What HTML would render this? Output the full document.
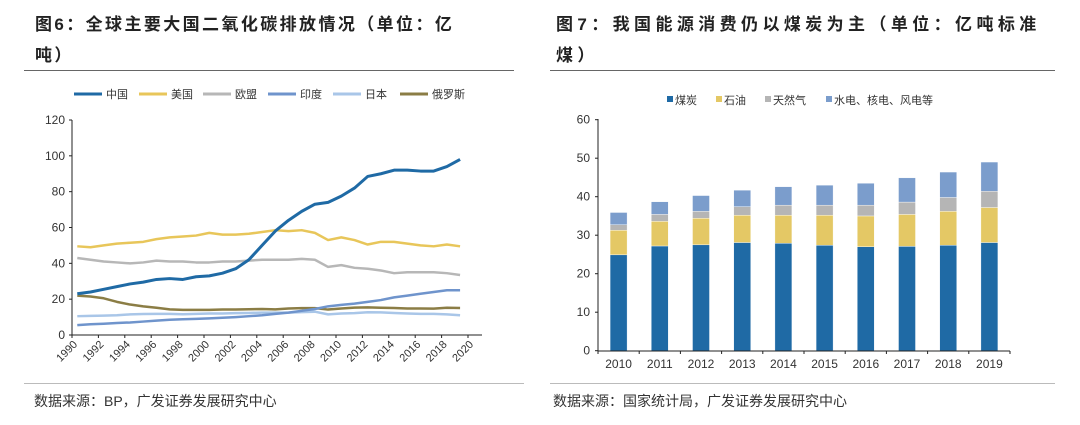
<!DOCTYPE html>
<html><head><meta charset="utf-8"><style>
body{margin:0;width:1080px;height:425px;background:#fff;font-family:"Liberation Sans","Noto Sans CJK SC",sans-serif;overflow:hidden;position:relative}
.t{position:absolute;font-weight:bold;font-size:17px;letter-spacing:2.4px;color:#222;line-height:31px;white-space:nowrap}
.src{position:absolute;top:391px;font-size:14px;color:#333}
.hr{position:absolute;height:1px;background:#666}
</style></head><body>
<div class="t" style="left:35px;top:9px">图6：全球主要大国二氧化碳排放情况（单位：亿<br>吨）</div>
<div class="t" style="left:556px;top:9px;letter-spacing:4.4px">图7：我国能源消费仍以煤炭为主（单位：亿吨标准<br>煤）</div>
<div class="hr" style="left:24px;top:70px;width:490px"></div>
<div class="hr" style="left:550px;top:70px;width:505px"></div>
<div class="hr" style="left:24px;top:383px;width:500px;background:#bbb"></div>
<div class="hr" style="left:550px;top:383px;width:505px;background:#bbb"></div>
<div class="src" style="left:34px">数据来源：BP，广发证券发展研究中心</div>
<div class="src" style="left:553px">数据来源：国家统计局，广发证券发展研究中心</div>
<svg id="svg" width="1080" height="425" style="position:absolute;left:0;top:0" font-family="Liberation Sans, Noto Sans CJK SC, sans-serif"></svg>
<script>
const years=[];for(let y=1990;y<=2019;y++)years.push(y);
const china=[23,24,25.5,27,28.5,29.5,31,31.5,31,32.5,33,34.5,37,42,50,58,64,69,73,74,77.5,82,88.5,90,92,92,91.5,91.5,94,98];
const usa=[49.5,49,50,51,51.5,52,53.5,54.5,55,55.5,57,56,56,56.5,57.5,58.5,58,58.5,57,53,54.5,53,50.5,52,52,51,50,49.5,50.5,49.5];
const eu=[43,42,41,40.5,40,40.5,41.5,41,41,40.5,40.5,41,41,41.5,42,42,42,42.5,42,38,39,37.5,37,36,34.5,35,35,35,34.5,33.5];
const india=[5.5,6,6.3,6.7,7,7.5,8,8.5,8.8,9,9.3,9.6,10,10.5,11,11.8,12.5,13.5,14.5,16,16.8,17.5,18.5,19.5,21,22,23,24,25,25];
const japan=[10.5,10.7,10.8,11,11.5,11.7,11.8,11.8,11.6,11.8,12,12,12.2,12.3,12.5,12.5,12.5,12.8,13,11.5,12,12.2,12.7,12.6,12.3,12,11.8,11.8,11.5,11];
const russia=[22,21.5,20.5,18.5,17,16,15.2,14.3,14,14,14,14.2,14.2,14.4,14.5,14.3,14.8,15,15,14.2,14.8,15.3,15.4,15.2,15.1,14.8,14.8,14.7,15.2,15.1];
const leftYTicks=[0,20,40,60,80,100,120];
const leftXTicks=[1990,1992,1994,1996,1998,2000,2002,2004,2006,2008,2010,2012,2014,2016,2018,2020];
const barCats=[2010,2011,2012,2013,2014,2015,2016,2017,2018,2019];
const coal=[24.9,27.2,27.5,28.1,27.9,27.4,27.0,27.1,27.4,28.1];
const oil=[6.4,6.4,6.9,7.1,7.3,7.8,8.0,8.3,8.8,9.1];
const gas=[1.4,1.8,1.8,2.2,2.6,2.6,2.8,3.2,3.6,4.2];
const other=[3.2,3.3,4.1,4.3,4.8,5.2,5.7,6.3,6.6,7.6];
const rightYTicks=[0,10,20,30,40,50,60];

const svg=document.getElementById('svg');const NS='http://www.w3.org/2000/svg';
function mk(tag,attrs,parent,text){const e=document.createElementNS(NS,tag);for(const k in attrs)e.setAttribute(k,attrs[k]);if(text!==undefined)e.textContent=text;(parent||svg).appendChild(e);return e;}
const lx=y=>72+(y-1990)*13.2, ly=v=>335-v*(215/120);
const gL=mk('g',{});
mk('line',{x1:72,y1:120,x2:72,y2:335,stroke:'#222','stroke-width':1},gL);
mk('line',{x1:72,y1:335,x2:482,y2:335,stroke:'#222','stroke-width':1},gL);
leftYTicks.forEach(v=>{mk('line',{x1:69,x2:72,y1:ly(v),y2:ly(v),stroke:'#222'},gL);const t=mk('text',{x:65,y:ly(v)+4,'text-anchor':'end','font-size':12,fill:'#333'},gL,v);});
leftXTicks.forEach(y=>{mk('line',{x1:lx(y),x2:lx(y),y1:335,y2:338,stroke:'#222'},gL);const t=mk('text',{x:lx(y)+6,y:345,'text-anchor':'end','font-size':11,fill:'#333',transform:`rotate(-45 ${lx(y)+6} 345)`},gL,y);});
const series=[['中国',china,'#1f6aa5','china'],['美国',usa,'#e8c65a','usa'],['欧盟',eu,'#b7b7b7','eu'],['印度',india,'#6f94cc','india'],['日本',japan,'#a9c6e8','japan'],['俄罗斯',russia,'#8b7d45','russia']];
const legX=[74,139,203,268,333,400];
series.slice().reverse().forEach(s=>{const p=mk('polyline',{points:s[1].map((v,i)=>lx(years[i]+0.4)+','+ly(v)).join(' '),fill:'none',stroke:s[2],'stroke-width':s[3]=='china'?3:2.5,'stroke-linejoin':'round'},gL);});
series.forEach((s,i)=>{const g=mk('g',{},gL);mk('line',{x1:legX[i],x2:legX[i]+28,y1:94,y2:94,stroke:s[2],'stroke-width':3},g);mk('text',{x:legX[i]+32,y:98,'font-size':11,fill:'#333'},g,s[0]);});
const rx0=598,cw=41.2,ry=v=>350.7-v*3.85;
const gR=mk('g',{});
const stacks=[['煤炭',coal,'#1f6aa5','coal'],['石油',oil,'#e4c865','oil'],['天然气',gas,'#b5b5b5','gas'],['水电、核电、风电等',other,'#7b9dcc','other']];
barCats.forEach((c,i)=>{let base=0;const cx=rx0+cw*(i+0.5);stacks.forEach(s=>{const v=s[1][i];const r=mk('rect',{x:cx-8.5,y:ry(base+v),width:17,height:ry(base)-ry(base+v),fill:s[2],stroke:'#fff','stroke-width':0.4},gR);base+=v;});
const t=mk('text',{x:cx,y:368,'text-anchor':'middle','font-size':12,fill:'#333'},gR,c);});
mk('line',{x1:rx0,y1:119,x2:rx0,y2:351,stroke:'#222'},gR);
mk('line',{x1:rx0,y1:351,x2:1010,y2:351,stroke:'#222'},gR);
for(let i=0;i<=10;i++)mk('line',{x1:rx0+cw*i,x2:rx0+cw*i,y1:351,y2:354,stroke:'#222'},gR);
rightYTicks.forEach(v=>{mk('line',{x1:595,x2:598,y1:ry(v),y2:ry(v),stroke:'#222'},gR);const t=mk('text',{x:590,y:ry(v)+4,'text-anchor':'end','font-size':12,fill:'#333'},gR,v);});
const rLeg=[667,716,765,826];
stacks.forEach((s,i)=>{const g=mk('g',{},gR);mk('rect',{x:rLeg[i],y:96,width:6,height:6,fill:s[2]},g);mk('text',{x:rLeg[i]+8,y:104,'font-size':11,fill:'#333'},g,s[0]);});
</script>
</body></html>
